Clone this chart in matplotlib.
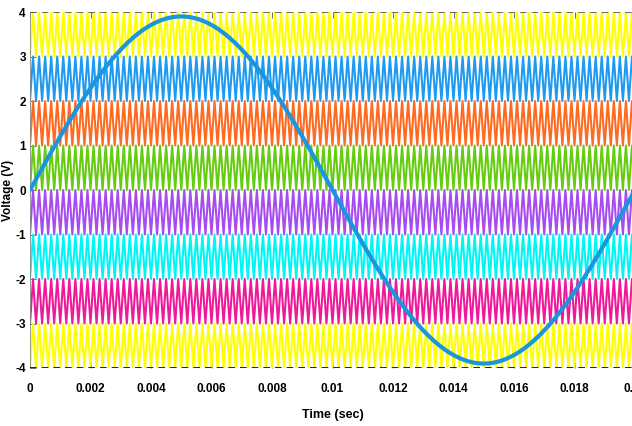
import numpy as np
import matplotlib
matplotlib.use('Agg')
import matplotlib.pyplot as plt

plt.rcParams['font.family'] = ['Liberation Sans Narrow', 'Liberation Sans', 'DejaVu Sans']
plt.rcParams['axes.unicode_minus'] = False

# carrier / reference settings
carrier_freq = 5000.0      # Hz
ref_freq = 50.0            # Hz
ref_amp = 3.9              # V
t_end = 0.02
band_lows = [3, 2, 1, 0, -1, -2, -3, -4]
band_colors = ['#ffff00', '#1e9bf0', '#ff6a21', '#66cc11',
               '#a64cf0', '#00f5f5', '#ee1a9a', '#ffff00']
xticks = [0, 0.002, 0.004, 0.006, 0.008, 0.01, 0.012, 0.014, 0.016, 0.018, 0.02]
xtick_labels = ['0', '0.002', '0.004', '0.006', '0.008', '0.01', '0.012',
                '0.014', '0.016', '0.018', '0.02']
yticks = [-4, -3, -2, -1, 0, 1, 2, 3, 4]

size = 632, 426
dpi = 100.0
figsize = size[0]/dpi, size[1]/dpi
fig = plt.figure(figsize=figsize, dpi=dpi)
ax = fig.add_axes([30/632, 1-368/426, 605/632, (368-12)/426])

# triangular carriers, vertices at every half period
tc = np.arange(0, int(2*carrier_freq*t_end)+1) / (2*carrier_freq)
tri = np.arange(len(tc)) % 2
for low, col in zip(band_lows, band_colors):
    ax.plot(tc, low + tri, color=col, lw=1.5, zorder=2)

t = np.linspace(0, t_end, 2000)
ax.plot(t, ref_amp*np.sin(2*np.pi*ref_freq*t), color='#1b95dd', lw=3, zorder=3,
        solid_capstyle='round')

ax.axhline(4, color='#555555', lw=1.2, ls=(0, (4, 3)), zorder=4)
ax.axhline(-4, color='black', lw=1.2, ls=(0, (4, 3)), zorder=4)

ax.set_xlim(0, t_end)
ax.set_ylim(-4, 4)
for s in ['top', 'right', 'bottom']:
    ax.spines[s].set_visible(False)
ax.spines['left'].set_color('#888888')
ax.spines['left'].set_linewidth(0.6)

ax.set_xticks(xticks)
ax.set_xticklabels(xtick_labels)
ax.set_yticks(yticks)
ax.tick_params(direction='in', length=4, width=0.6, color='#555555',
               labelsize=8.5, top=True, right=False)
ax.tick_params(axis='x', pad=11)
ax.tick_params(axis='y', pad=3)
for lab in ax.get_xticklabels() + ax.get_yticklabels():
    lab.set_fontweight('bold')

ax.set_xlabel('Time (sec)', fontsize=9, fontweight='bold', labelpad=10)
ax.set_ylabel('Voltage (V)', fontsize=8.5, fontweight='bold', labelpad=1)

fig.savefig('out.png', dpi=dpi)
